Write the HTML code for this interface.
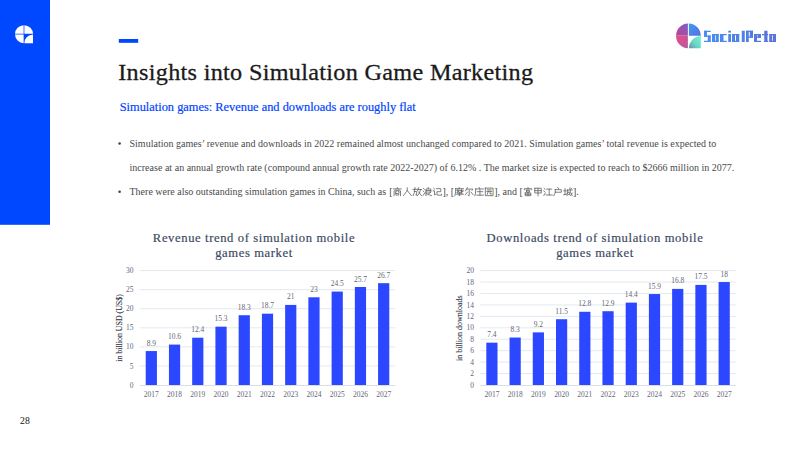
<!DOCTYPE html>
<html><head><meta charset="utf-8">
<style>
html,body{margin:0;padding:0;background:#fff;}
body{width:800px;height:450px;overflow:hidden;position:relative;}
svg{position:absolute;left:0;top:0;}
text{font-family:"Liberation Serif",serif;}
.tk{font-size:8.8px;fill:#5f6779;}
.ct{font-size:12.6px;fill:#3b4962;stroke:#3b4962;stroke-width:0.18px;letter-spacing:0.62px;}
.bd{font-size:10px;fill:#4a4a4a;}
</style></head><body>
<svg width="800" height="450" viewBox="0 0 800 450">
<defs>
<linearGradient id="gtl" x1="0" y1="1" x2="1" y2="0"><stop offset="0" stop-color="#c0428f"/><stop offset="1" stop-color="#7a5fc8"/></linearGradient>
<linearGradient id="gtr" x1="0" y1="0" x2="1" y2="1"><stop offset="0" stop-color="#3a9af5"/><stop offset="1" stop-color="#5b6ee0"/></linearGradient>
<linearGradient id="gbl" x1="0" y1="0" x2="1" y2="1"><stop offset="0" stop-color="#e84c8c"/><stop offset="1" stop-color="#b85a9a"/></linearGradient>
<linearGradient id="gbr" x1="1" y1="0" x2="0" y2="1"><stop offset="0" stop-color="#70f4d0"/><stop offset="0.55" stop-color="#6ad8c4"/><stop offset="1" stop-color="#6a8cb0"/></linearGradient>
<linearGradient id="gwm" gradientUnits="userSpaceOnUse" x1="704" y1="0" x2="777" y2="0"><stop offset="0" stop-color="#4590f0"/><stop offset="1" stop-color="#5c72da"/></linearGradient>
</defs>
<rect x="0" y="0" width="50" height="224.8" fill="#0048ff"/>
<path d="M23.65 33.85 L23.65 25.20 A9.0 9.0 0 0 0 15.00 33.85 Z" fill="#fff"/>
<path d="M24.35 33.85 L33.00 33.85 A9.0 9.0 0 0 0 24.35 25.20 Z" fill="#fff"/>
<path d="M23.65 34.55 L15.00 34.55 A9.0 9.0 0 0 0 23.65 43.20 Z" fill="#fff"/>
<path d="M33.00 43.20 L24.35 43.20 A8.65 8.65 0 0 1 33.00 34.55 Z" fill="#fff"/>
<rect x="118.8" y="39" width="19.4" height="3.8" fill="#0048ff"/>
<path d="M687.90 35.70 L687.90 23.50 A12.4 12.4 0 0 0 676.00 35.70 Z" fill="url(#gtl)"/>
<path d="M688.90 35.70 L700.80 35.70 A12.4 12.4 0 0 0 688.90 23.50 Z" fill="url(#gtr)"/>
<path d="M687.90 36.10 L676.00 36.10 A12.4 12.4 0 0 0 687.90 48.30 Z" fill="url(#gbl)"/>
<path d="M700.80 48.30 L688.90 48.30 A11.90 12.20 0 0 1 700.80 36.10 Z" fill="url(#gbr)"/>
<g fill="url(#gwm)"><rect x="704" y="30.75" width="6.75" height="1.25"/><rect x="704" y="30.75" width="3.00" height="6.00"/><rect x="704" y="35.5" width="6.75" height="1.25"/><rect x="707.75" y="35.5" width="3.00" height="6.50"/><rect x="704" y="40.75" width="6.75" height="1.25"/><rect x="712" y="34.0" width="3.00" height="8.00"/><rect x="715.75" y="34.0" width="3.00" height="8.00"/><rect x="712" y="34.0" width="6.75" height="1.25"/><rect x="712" y="40.75" width="6.75" height="1.25"/><rect x="720" y="34.0" width="3.50" height="8.00"/><rect x="720" y="34.0" width="6.75" height="1.25"/><rect x="720" y="40.75" width="6.75" height="1.25"/><rect x="728.25" y="30.75" width="2.75" height="1.85"/><rect x="728.25" y="34.0" width="2.75" height="8.00"/><rect x="732" y="34.0" width="3.00" height="8.00"/><rect x="736" y="34.0" width="3.25" height="8.00"/><rect x="732" y="34.0" width="7.25" height="1.25"/><rect x="732" y="40.75" width="7.25" height="1.25"/><rect x="741.75" y="30.75" width="3.00" height="11.25"/><rect x="746" y="30.75" width="2.75" height="11.25"/><rect x="746" y="30.75" width="7.00" height="1.25"/><rect x="749.75" y="30.75" width="3.25" height="7.00"/><rect x="746" y="36.5" width="7.00" height="1.25"/><rect x="754" y="34.0" width="3.00" height="8.00"/><rect x="754" y="34.0" width="7.00" height="1.25"/><rect x="757.75" y="34.0" width="3.25" height="3.75"/><rect x="754" y="36.5" width="7.00" height="1.25"/><rect x="754" y="40.75" width="7.00" height="1.25"/><rect x="764.25" y="30.75" width="3.25" height="11.25"/><rect x="762" y="34.0" width="6.00" height="1.25"/><rect x="764.25" y="40.75" width="3.95" height="1.25"/><rect x="769.25" y="34.0" width="3.00" height="8.00"/><rect x="773.0" y="34.0" width="3.00" height="8.00"/><rect x="769.25" y="34.0" width="6.75" height="1.25"/><rect x="769.25" y="40.75" width="6.75" height="1.25"/></g>
<text transform="translate(118.2 79.5) scale(1.03 1)" style="font-size:23.5px;fill:#1a1a1a;stroke:#1a1a1a;stroke-width:0.3px;letter-spacing:0.3px">Insights into Simulation Game Marketing</text>
<text transform="translate(119.7 111) scale(0.953 1)" style="font-size:13px;fill:#0044ff;stroke:#0044ff;stroke-width:0.2px">Simulation games: Revenue and downloads are roughly flat</text>
<circle cx="119.6" cy="143.6" r="1.25" fill="#3f3f3f"/>
<circle cx="119.6" cy="191.8" r="1.25" fill="#3f3f3f"/>
<text x="129.5" y="146.8" class="bd" textLength="586.8" lengthAdjust="spacing">Simulation games’ revenue and downloads in 2022 remained almost unchanged compared to 2021. Simulation games’ total revenue is expected to</text>
<text x="129.5" y="171" class="bd" textLength="604.8" lengthAdjust="spacing">increase at an annual growth rate (compound annual growth rate 2022-2027) of 6.12% . The market size is expected to reach to $2666 million in 2077.</text>
<text x="129.5" y="195" class="bd">There were also outstanding simulation games in China, such as </text><text x="389.2" y="195" class="bd">[</text><g fill="none" stroke="#555" stroke-width="0.75" stroke-linecap="square"><path d="M397.30 187.66 L397.30 188.60 M393.44 188.86 L401.16 188.86 M395.83 189.46 L396.29 190.32 M398.77 189.46 L398.31 190.32 M394.08 195.66 L394.08 190.84 L400.52 190.84 L400.52 195.66 M396.01 191.53 L395.46 192.73 M398.59 191.53 L399.14 192.73 M395.92 193.42 L398.68 193.42 L398.68 195.05 L395.92 195.05 L395.92 193.42"/><path d="M407.30 187.83 L407.12 190.84 L403.44 195.57 M407.21 190.41 L411.35 195.57"/><path d="M415.00 187.66 L415.09 188.52 M413.07 189.38 L417.12 189.38 M414.54 189.38 L414.36 192.56 L413.16 195.66 M414.45 191.53 L416.75 191.53 L416.56 195.31 L415.83 194.97 M418.59 187.74 L417.67 190.50 M418.13 189.46 L421.53 189.46 M420.52 189.46 L419.51 192.99 L417.48 195.66 M418.59 191.87 L421.53 195.66"/><path d="M423.44 188.43 L424.45 189.38 M423.07 191.01 L424.08 191.87 M423.16 195.40 L424.72 192.99 M428.22 187.57 L428.40 188.52 M426.01 195.66 L426.01 188.95 L430.80 188.95 L430.80 192.04 L426.01 192.04 M426.01 190.50 L430.80 190.50 M426.20 193.59 L431.53 195.66 M430.61 192.47 L428.22 193.94"/><path d="M433.53 188.17 L434.54 189.12 M433.07 190.84 L434.54 190.84 L434.54 194.97 L435.64 194.11 M436.38 188.69 L440.80 188.69 L440.80 191.70 L436.93 191.70 L436.93 194.97 L441.53 195.31 L441.53 194.28"/></g><text x="442.4" y="195" class="bd">], [</text><g fill="none" stroke="#555" stroke-width="0.75" stroke-linecap="square"><path d="M459.20 187.57 L459.20 188.26 M455.52 188.69 L463.43 188.69 M455.70 188.69 L455.52 192.99 L454.88 195.66 M456.81 190.32 L459.20 190.32 M458.00 189.46 L458.00 192.56 M456.99 192.22 L459.02 191.18 M459.94 190.32 L463.06 190.32 M461.50 189.46 L461.50 192.56 M460.12 192.22 L463.06 191.36 M457.36 193.16 L462.14 193.16 M456.81 194.28 L463.25 194.28 M459.75 192.39 L459.75 195.66 L459.02 195.40"/><path d="M467.36 187.66 L465.52 190.84 M466.81 189.12 L472.88 189.12 L472.14 190.32 M469.20 190.15 L469.20 195.66 L468.28 195.31 M467.36 192.13 L465.34 194.80 M471.04 192.13 L473.16 194.80"/><path d="M479.20 187.57 L479.38 188.43 M475.52 188.95 L483.43 188.95 M475.70 188.95 L475.52 192.99 L474.88 195.66 M477.36 191.70 L482.70 191.70 M479.94 189.81 L479.94 195.14 M476.81 195.14 L483.43 195.14"/><path d="M485.34 188.09 L493.06 188.09 L493.06 195.66 L485.34 195.66 L485.34 188.09 M487.36 189.81 L491.04 189.81 M486.81 191.36 L491.59 191.36 M488.28 191.36 L487.27 194.28 M490.03 191.36 L490.03 193.94 L491.59 193.94"/></g><text x="494.2" y="195" class="bd">], and [</text><g fill="none" stroke="#555" stroke-width="0.75" stroke-linecap="square"><path d="M528.00 187.49 L528.00 188.26 M524.32 189.64 L524.32 188.69 L531.68 188.69 L531.68 189.64 M526.16 189.98 L529.84 189.98 M526.53 190.84 L529.47 190.84 L529.47 192.13 L526.53 192.13 L526.53 190.84 M525.24 192.90 L530.76 192.90 L530.76 195.66 L525.24 195.66 L525.24 192.90 M528.00 192.90 L528.00 195.66 M525.24 194.28 L530.76 194.28"/><path d="M534.78 188.26 L541.22 188.26 L541.22 192.99 L534.78 192.99 L534.78 188.26 M534.78 190.67 L541.22 190.67 M538.00 188.26 L538.00 195.83"/><path d="M544.14 188.43 L545.15 189.38 M543.77 191.01 L544.78 191.87 M543.86 195.40 L545.42 192.99 M546.71 189.12 L551.68 189.12 M549.20 189.12 L549.20 194.97 M546.16 194.97 L552.23 194.97"/><path d="M557.82 187.57 L558.55 188.69 M555.24 189.64 L561.31 189.64 L561.31 192.22 L555.24 192.22 M555.24 189.64 L555.24 192.73 L553.77 195.66"/><path d="M563.77 190.84 L566.16 190.84 M565.06 188.60 L565.06 194.28 M563.77 194.80 L566.71 193.94 M567.26 189.98 L572.23 189.98 M567.63 189.98 L567.63 192.90 L566.90 195.66 M567.63 192.22 L569.47 192.22 L569.38 194.80 L568.55 194.45 M569.84 188.09 L570.39 192.04 L572.23 195.66 M572.23 193.08 L570.21 195.66 M571.04 188.09 L571.68 188.86"/></g><text x="573.0" y="195" class="bd">].</text>
<text transform="translate(20 424.3) scale(0.93 1)" style="font-size:10.5px;fill:#111">28</text>
<text x="254" y="242" class="ct" text-anchor="middle">Revenue trend of simulation mobile</text>
<text x="254" y="257.3" class="ct" text-anchor="middle">games market</text>
<text x="595" y="242" class="ct" text-anchor="middle">Downloads trend of simulation mobile</text>
<text x="595" y="257.3" class="ct" text-anchor="middle">games market</text>
<rect x="139.70" y="365.43" width="255.60" height="1" fill="#e4e8ef"/>
<rect x="139.70" y="346.37" width="255.60" height="1" fill="#e4e8ef"/>
<rect x="139.70" y="327.30" width="255.60" height="1" fill="#e4e8ef"/>
<rect x="139.70" y="308.23" width="255.60" height="1" fill="#e4e8ef"/>
<rect x="139.70" y="289.17" width="255.60" height="1" fill="#e4e8ef"/>
<rect x="139.70" y="270.10" width="255.60" height="1" fill="#e4e8ef"/>
<rect x="139.70" y="385.00" width="255.60" height="1" fill="#dadee6"/>
<text transform="translate(133.40 387.60) scale(0.85 1)" text-anchor="end" class="tk">0</text>
<text transform="translate(133.40 368.53) scale(0.85 1)" text-anchor="end" class="tk">5</text>
<text transform="translate(133.40 349.47) scale(0.85 1)" text-anchor="end" class="tk">10</text>
<text transform="translate(133.40 330.40) scale(0.85 1)" text-anchor="end" class="tk">15</text>
<text transform="translate(133.40 311.33) scale(0.85 1)" text-anchor="end" class="tk">20</text>
<text transform="translate(133.40 292.27) scale(0.85 1)" text-anchor="end" class="tk">25</text>
<text transform="translate(133.40 273.20) scale(0.85 1)" text-anchor="end" class="tk">30</text>
<rect x="145.72" y="351.06" width="11.2" height="33.94" fill="#2b47ff"/>
<text transform="translate(151.32 345.56) scale(0.85 1)" text-anchor="middle" class="tk">8.9</text>
<text transform="translate(151.32 396.70) scale(0.85 1)" text-anchor="middle" class="tk">2017</text>
<rect x="168.95" y="344.58" width="11.2" height="40.42" fill="#2b47ff"/>
<text transform="translate(174.55 339.08) scale(0.85 1)" text-anchor="middle" class="tk">10.6</text>
<text transform="translate(174.55 396.70) scale(0.85 1)" text-anchor="middle" class="tk">2018</text>
<rect x="192.19" y="337.71" width="11.2" height="47.29" fill="#2b47ff"/>
<text transform="translate(197.79 332.21) scale(0.85 1)" text-anchor="middle" class="tk">12.4</text>
<text transform="translate(197.79 396.70) scale(0.85 1)" text-anchor="middle" class="tk">2019</text>
<rect x="215.43" y="326.66" width="11.2" height="58.34" fill="#2b47ff"/>
<text transform="translate(221.03 321.16) scale(0.85 1)" text-anchor="middle" class="tk">15.3</text>
<text transform="translate(221.03 396.70) scale(0.85 1)" text-anchor="middle" class="tk">2020</text>
<rect x="238.66" y="315.22" width="11.2" height="69.78" fill="#2b47ff"/>
<text transform="translate(244.26 309.72) scale(0.85 1)" text-anchor="middle" class="tk">18.3</text>
<text transform="translate(244.26 396.70) scale(0.85 1)" text-anchor="middle" class="tk">2021</text>
<rect x="261.90" y="313.69" width="11.2" height="71.31" fill="#2b47ff"/>
<text transform="translate(267.50 308.19) scale(0.85 1)" text-anchor="middle" class="tk">18.7</text>
<text transform="translate(267.50 396.70) scale(0.85 1)" text-anchor="middle" class="tk">2022</text>
<rect x="285.14" y="304.92" width="11.2" height="80.08" fill="#2b47ff"/>
<text transform="translate(290.74 299.42) scale(0.85 1)" text-anchor="middle" class="tk">21</text>
<text transform="translate(290.74 396.70) scale(0.85 1)" text-anchor="middle" class="tk">2023</text>
<rect x="308.37" y="297.29" width="11.2" height="87.71" fill="#2b47ff"/>
<text transform="translate(313.97 291.79) scale(0.85 1)" text-anchor="middle" class="tk">23</text>
<text transform="translate(313.97 396.70) scale(0.85 1)" text-anchor="middle" class="tk">2024</text>
<rect x="331.61" y="291.57" width="11.2" height="93.43" fill="#2b47ff"/>
<text transform="translate(337.21 286.07) scale(0.85 1)" text-anchor="middle" class="tk">24.5</text>
<text transform="translate(337.21 396.70) scale(0.85 1)" text-anchor="middle" class="tk">2025</text>
<rect x="354.85" y="287.00" width="11.2" height="98.00" fill="#2b47ff"/>
<text transform="translate(360.45 281.50) scale(0.85 1)" text-anchor="middle" class="tk">25.7</text>
<text transform="translate(360.45 396.70) scale(0.85 1)" text-anchor="middle" class="tk">2026</text>
<rect x="378.08" y="283.18" width="11.2" height="101.82" fill="#2b47ff"/>
<text transform="translate(383.68 277.68) scale(0.85 1)" text-anchor="middle" class="tk">26.7</text>
<text transform="translate(383.68 396.70) scale(0.85 1)" text-anchor="middle" class="tk">2027</text>
<rect x="480.30" y="373.06" width="255.50" height="1" fill="#e4e8ef"/>
<rect x="480.30" y="361.62" width="255.50" height="1" fill="#e4e8ef"/>
<rect x="480.30" y="350.18" width="255.50" height="1" fill="#e4e8ef"/>
<rect x="480.30" y="338.74" width="255.50" height="1" fill="#e4e8ef"/>
<rect x="480.30" y="327.30" width="255.50" height="1" fill="#e4e8ef"/>
<rect x="480.30" y="315.86" width="255.50" height="1" fill="#e4e8ef"/>
<rect x="480.30" y="304.42" width="255.50" height="1" fill="#e4e8ef"/>
<rect x="480.30" y="292.98" width="255.50" height="1" fill="#e4e8ef"/>
<rect x="480.30" y="281.54" width="255.50" height="1" fill="#e4e8ef"/>
<rect x="480.30" y="270.10" width="255.50" height="1" fill="#e4e8ef"/>
<rect x="480.30" y="385.00" width="255.50" height="1" fill="#dadee6"/>
<text transform="translate(474.00 387.60) scale(0.85 1)" text-anchor="end" class="tk">0</text>
<text transform="translate(474.00 376.16) scale(0.85 1)" text-anchor="end" class="tk">2</text>
<text transform="translate(474.00 364.72) scale(0.85 1)" text-anchor="end" class="tk">4</text>
<text transform="translate(474.00 353.28) scale(0.85 1)" text-anchor="end" class="tk">6</text>
<text transform="translate(474.00 341.84) scale(0.85 1)" text-anchor="end" class="tk">8</text>
<text transform="translate(474.00 330.40) scale(0.85 1)" text-anchor="end" class="tk">10</text>
<text transform="translate(474.00 318.96) scale(0.85 1)" text-anchor="end" class="tk">12</text>
<text transform="translate(474.00 307.52) scale(0.85 1)" text-anchor="end" class="tk">14</text>
<text transform="translate(474.00 296.08) scale(0.85 1)" text-anchor="end" class="tk">16</text>
<text transform="translate(474.00 284.64) scale(0.85 1)" text-anchor="end" class="tk">18</text>
<text transform="translate(474.00 273.20) scale(0.85 1)" text-anchor="end" class="tk">20</text>
<rect x="486.31" y="342.67" width="11.2" height="42.33" fill="#2b47ff"/>
<text transform="translate(491.91 337.17) scale(0.85 1)" text-anchor="middle" class="tk">7.4</text>
<text transform="translate(491.91 396.70) scale(0.85 1)" text-anchor="middle" class="tk">2017</text>
<rect x="509.54" y="337.52" width="11.2" height="47.48" fill="#2b47ff"/>
<text transform="translate(515.14 332.02) scale(0.85 1)" text-anchor="middle" class="tk">8.3</text>
<text transform="translate(515.14 396.70) scale(0.85 1)" text-anchor="middle" class="tk">2018</text>
<rect x="532.77" y="332.38" width="11.2" height="52.62" fill="#2b47ff"/>
<text transform="translate(538.37 326.88) scale(0.85 1)" text-anchor="middle" class="tk">9.2</text>
<text transform="translate(538.37 396.70) scale(0.85 1)" text-anchor="middle" class="tk">2019</text>
<rect x="556.00" y="319.22" width="11.2" height="65.78" fill="#2b47ff"/>
<text transform="translate(561.60 313.72) scale(0.85 1)" text-anchor="middle" class="tk">11.5</text>
<text transform="translate(561.60 396.70) scale(0.85 1)" text-anchor="middle" class="tk">2020</text>
<rect x="579.22" y="311.78" width="11.2" height="73.22" fill="#2b47ff"/>
<text transform="translate(584.82 306.28) scale(0.85 1)" text-anchor="middle" class="tk">12.8</text>
<text transform="translate(584.82 396.70) scale(0.85 1)" text-anchor="middle" class="tk">2021</text>
<rect x="602.45" y="311.21" width="11.2" height="73.79" fill="#2b47ff"/>
<text transform="translate(608.05 305.71) scale(0.85 1)" text-anchor="middle" class="tk">12.9</text>
<text transform="translate(608.05 396.70) scale(0.85 1)" text-anchor="middle" class="tk">2022</text>
<rect x="625.68" y="302.63" width="11.2" height="82.37" fill="#2b47ff"/>
<text transform="translate(631.28 297.13) scale(0.85 1)" text-anchor="middle" class="tk">14.4</text>
<text transform="translate(631.28 396.70) scale(0.85 1)" text-anchor="middle" class="tk">2023</text>
<rect x="648.90" y="294.05" width="11.2" height="90.95" fill="#2b47ff"/>
<text transform="translate(654.50 288.55) scale(0.85 1)" text-anchor="middle" class="tk">15.9</text>
<text transform="translate(654.50 396.70) scale(0.85 1)" text-anchor="middle" class="tk">2024</text>
<rect x="672.13" y="288.90" width="11.2" height="96.10" fill="#2b47ff"/>
<text transform="translate(677.73 283.40) scale(0.85 1)" text-anchor="middle" class="tk">16.8</text>
<text transform="translate(677.73 396.70) scale(0.85 1)" text-anchor="middle" class="tk">2025</text>
<rect x="695.36" y="284.90" width="11.2" height="100.10" fill="#2b47ff"/>
<text transform="translate(700.96 279.40) scale(0.85 1)" text-anchor="middle" class="tk">17.5</text>
<text transform="translate(700.96 396.70) scale(0.85 1)" text-anchor="middle" class="tk">2026</text>
<rect x="718.59" y="282.04" width="11.2" height="102.96" fill="#2b47ff"/>
<text transform="translate(724.19 276.54) scale(0.85 1)" text-anchor="middle" class="tk">18</text>
<text transform="translate(724.19 396.70) scale(0.85 1)" text-anchor="middle" class="tk">2027</text>
<text transform="translate(122 328) rotate(-90) scale(0.95 1)" text-anchor="middle" style="font-size:8.3px;fill:#333b4a;stroke:#333b4a;stroke-width:0.12px">in billion USD (US$)</text>
<text transform="translate(462 328.2) rotate(-90)" text-anchor="middle" style="font-size:8px;fill:#333b4a;stroke:#333b4a;stroke-width:0.12px">in billion downloads</text>
</svg>
</body></html>
